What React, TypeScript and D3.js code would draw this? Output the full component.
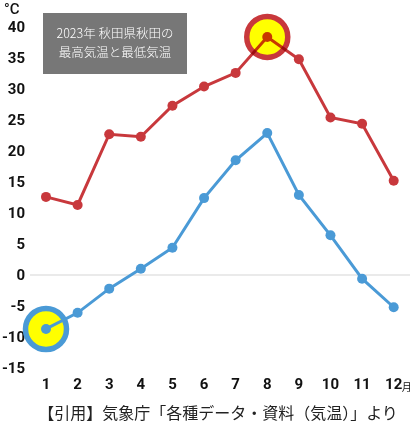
import React from "react";
import * as d3 from "d3";

const months = [1, 2, 3, 4, 5, 6, 7, 8, 9, 10, 11, 12];
const maxTemps = [12.6, 11.3, 22.7, 22.3, 27.3, 30.4, 32.6, 38.4, 34.8, 25.4, 24.4, 15.2];
const minTemps = [-8.7, -6.1, -2.2, 1.0, 4.4, 12.4, 18.5, 22.9, 12.9, 6.4, -0.6, -5.2];
const yTicks = [40, 35, 30, 25, 20, 15, 10, 5, 0, -5, -10, -15];
const titleLines = ["2023年 秋田県秋田の", "最高気温と最低気温"];
const sourceText = "【引用】気象庁「各種データ・資料（気温）」より";
const unitLabel = "°C";
const monthSuffix = "月";

const W = 411;
const H = 435;
const RED = "#c8383c";
const BLUE = "#4a9ad6";

export default function App() {
  const x = d3.scaleLinear().domain([1, 12]).range([46, 393.7]);
  const y = d3.scaleLinear().domain([0, 40]).range([275, 27]);
  const line = d3
    .line<number>()
    .x((_, i) => x(months[i]))
    .y((d) => y(d));

  const maxIdx = maxTemps.indexOf(d3.max(maxTemps) as number);
  const minIdx = minTemps.indexOf(d3.min(minTemps) as number);
  const tickFont = "Roboto, 'Noto Sans', sans-serif";
  const jpFont = "'Noto Sans CJK JP', sans-serif";

  return (
    <svg
      width={W}
      height={H}
      style={{ position: "absolute", left: 0, top: 0, background: "#fff" }}
    >
      <line x1={30} x2={410} y1={y(0)} y2={y(0)} stroke="#e3e3e3" strokeWidth={1.5} />
      {yTicks.map((t) => (
        <text
          key={t}
          x={25}
          y={y(t)}
          dy="0.36em"
          textAnchor="end"
          fontFamily={tickFont}
          fontWeight={700}
          fontSize={15}
          fill="#111"
        >
          {t}
        </text>
      ))}
      <text x={4} y={14} fontFamily={tickFont} fontWeight={500} fontSize={15} fill="#111">
        {unitLabel}
      </text>
      {months.map((m) => (
        <text
          key={m}
          x={x(m)}
          y={384}
          dy="0.36em"
          textAnchor="middle"
          fontFamily={tickFont}
          fontWeight={700}
          fontSize={15}
          fill="#111"
        >
          {m}
        </text>
      ))}
      <text x={x(12) + 8} y={391} fontFamily={jpFont} fontSize={10} fill="#111">
        {monthSuffix}
      </text>

      {/* Min highlight (under line) */}
      <circle
        cx={x(months[minIdx])}
        cy={y(minTemps[minIdx])}
        r={20.5}
        fill="#ffff00"
        stroke={BLUE}
        strokeWidth={5.5}
      />

      <path d={line(minTemps) || ""} fill="none" stroke={BLUE} strokeWidth={3} />
      {minTemps.map((v, i) => (
        <circle key={"b" + i} cx={x(months[i])} cy={y(v)} r={5} fill={BLUE} />
      ))}

      <path d={line(maxTemps) || ""} fill="none" stroke={RED} strokeWidth={3} />
      {maxTemps.map((v, i) => (
        <circle key={"r" + i} cx={x(months[i])} cy={y(v)} r={5} fill={RED} />
      ))}

      {/* Max highlight (multiplied over line) */}
      <circle
        cx={x(months[maxIdx])}
        cy={y(maxTemps[maxIdx])}
        r={20.5}
        fill="#ffff00"
        stroke={RED}
        strokeWidth={5.5}
        style={{ mixBlendMode: "multiply" }}
      />

      <rect x={43} y={13} width={144} height={61} fill="#777777" />
      {titleLines.map((t, i) => (
        <text
          key={i}
          x={115}
          y={33 + i * 19.5}
          dy="0.36em"
          textAnchor="middle"
          fontFamily={jpFont}
          fontWeight={300}
          fontSize={12.5}
          fill="#fff"
        >
          {t}
        </text>
      ))}

      <text
        x={218}
        y={413}
        dy="0.36em"
        textAnchor="middle"
        fontFamily={jpFont}
        fontSize={16}
        fill="#222"
      >
        {sourceText}
      </text>
    </svg>
  );
}
